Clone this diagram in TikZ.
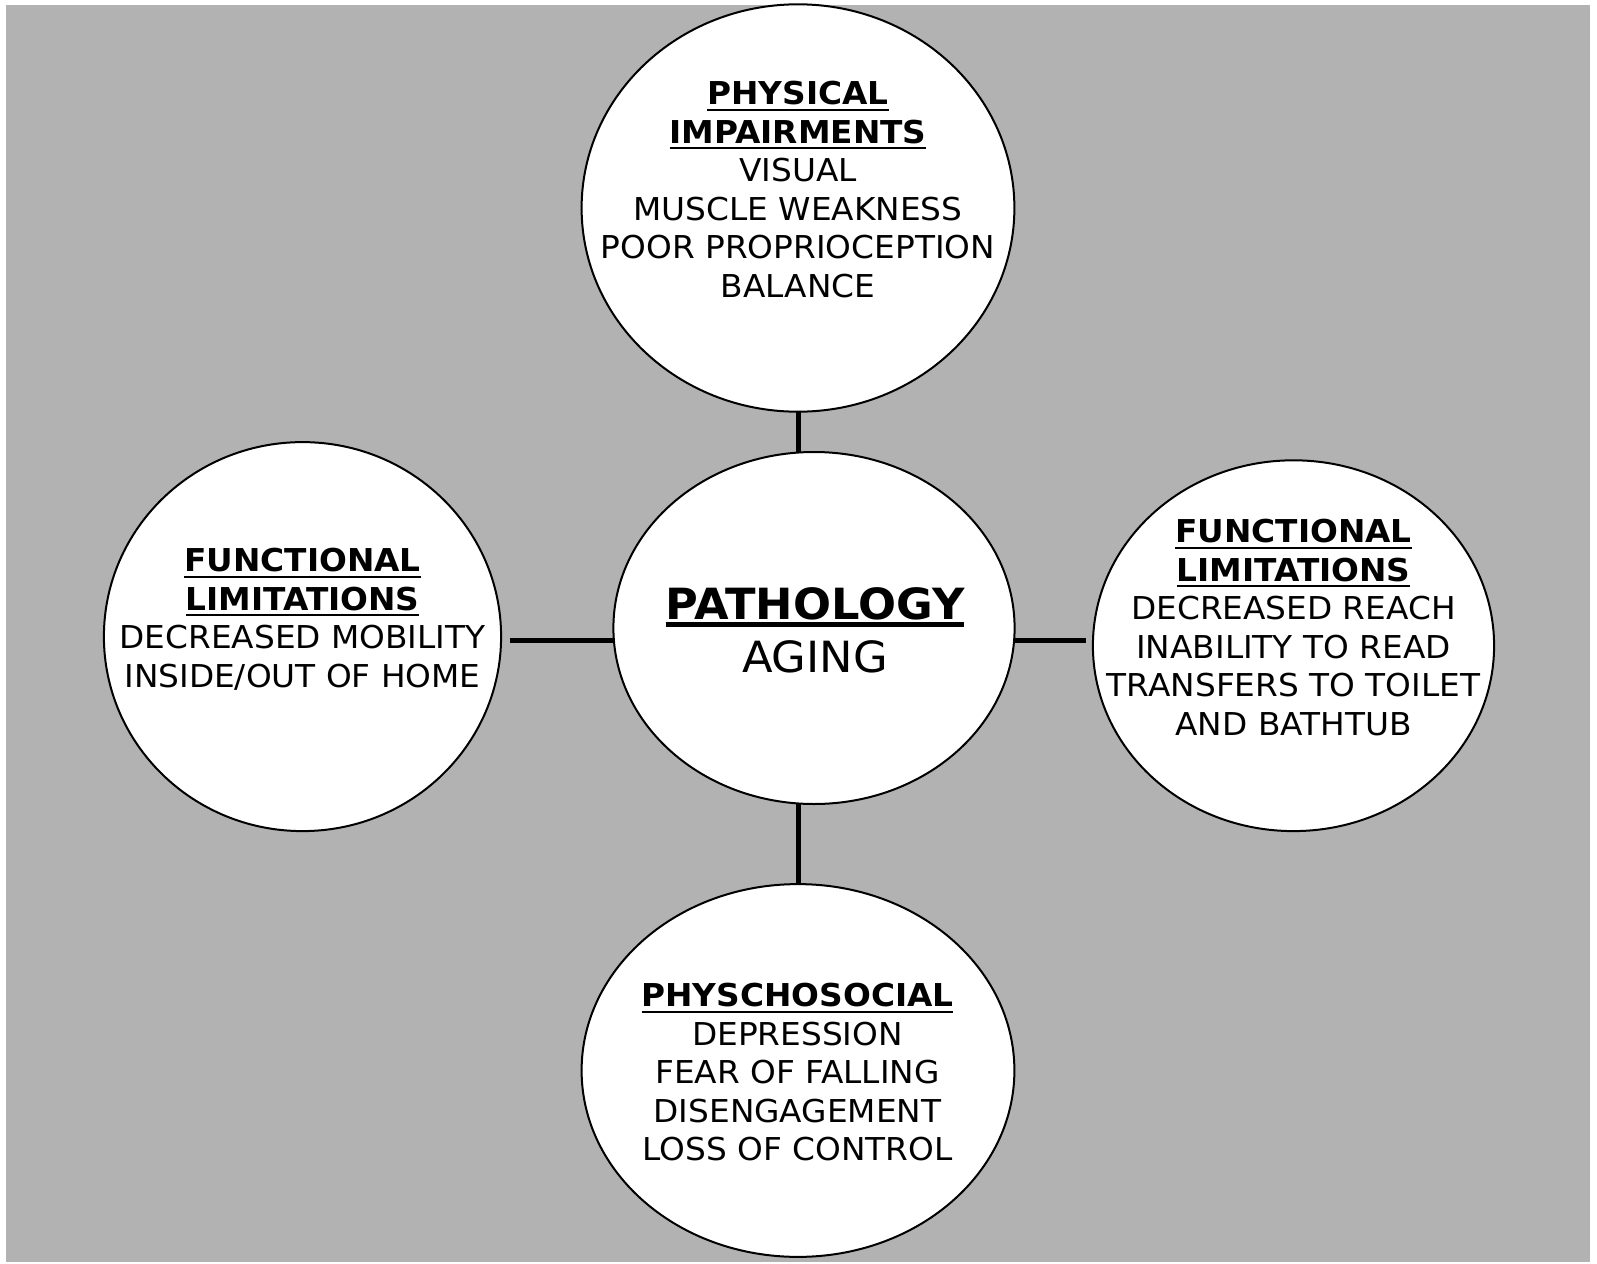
\documentclass[tikz,border=0pt]{standalone}
\usepackage{fontspec}
\setmainfont{DejaVu Sans}[FakeStretch=1.04]
\usetikzlibrary{shapes.geometric}
\definecolor{bggray}{RGB}{178,178,178}
\newcommand{\ulin}[3]{\setbox0=\hbox{#3}\rlap{\rule[-#1]{\wd0}{#2}}\box0}
\newcommand{\hd}[1]{\textbf{\ulin{3pt}{1pt}{#1}}}
\begin{document}
\begin{tikzpicture}[x=0.5pt,y=-0.5pt,
  bubble/.style={ellipse,draw=black,line width=1pt,fill=white,inner sep=0pt,outer sep=0pt},
  txt/.style={align=center,inner sep=0pt,font=\fontsize{15.75pt}{19.25pt}\selectfont},
  bigtxt/.style={align=center,inner sep=0pt,font=\fontsize{21.5pt}{26.5pt}\selectfont},
  link/.style={line width=2.5pt,draw=black}]
\useasboundingbox (0,0) rectangle (1597,1264);
\fill[white] (0,0) rectangle (1597,1264);
\fill[bggray] (6,5) rectangle (1590,1262);
% bubbles
\node[bubble,minimum width=216.4pt,minimum height=203.7pt] (top) at (798,208) {};
\node[bubble,minimum width=200.6pt,minimum height=176pt] (center) at (814,628) {};
\node[bubble,minimum width=198.6pt,minimum height=194.5pt] (left) at (302.5,636.6) {};
\node[bubble,minimum width=200.6pt,minimum height=185.4pt] (right) at (1293.5,645.7) {};
\node[bubble,minimum width=216.4pt,minimum height=186.4pt] (bottom) at (798,1070.5) {};
% connectors
\draw[link] (top.south) -- (top.south |- center.north);
\draw[link] (bottom.north) -- (bottom.north |- center.south);
\draw[link,shorten <=4.5pt] ([yshift=-2pt]left.east) -- ([yshift=-2pt]left.east -| center.west);
\draw[link,shorten >=3.5pt] ([yshift=2.5pt]right.west -| center.east) -- ([yshift=2.5pt]right.west);
% texts
\node[txt] (toptxt) at (798,189.4) {\hd{PHYSICAL}\\\hd{IMPAIRMENTS}\\VISUAL\\MUSCLE WEAKNESS\\POOR PROPRIOCEPTION\\BALANCE};
\node[bigtxt] (centertxt) at (815,630) {\textbf{\ulin{4pt}{2.5pt}{PATHOLOGY}}\\AGING};
\node[txt] (lefttxt) at (302.5,619.5) {\hd{FUNCTIONAL}\\\hd{LIMITATIONS}\\DECREASED MOBILITY\\INSIDE/OUT OF HOME};
\node[txt] (righttxt) at (1293.5,627.4) {\hd{FUNCTIONAL}\\\hd{LIMITATIONS}\\DECREASED REACH\\INABILITY TO READ\\TRANSFERS TO TOILET\\AND BATHTUB};
\node[txt] (bottomtxt) at (797.5,1072.5) {\hd{PHYSCHOSOCIAL}\\DEPRESSION\\FEAR OF FALLING\\DISENGAGEMENT\\LOSS OF CONTROL};
\end{tikzpicture}
\end{document}
